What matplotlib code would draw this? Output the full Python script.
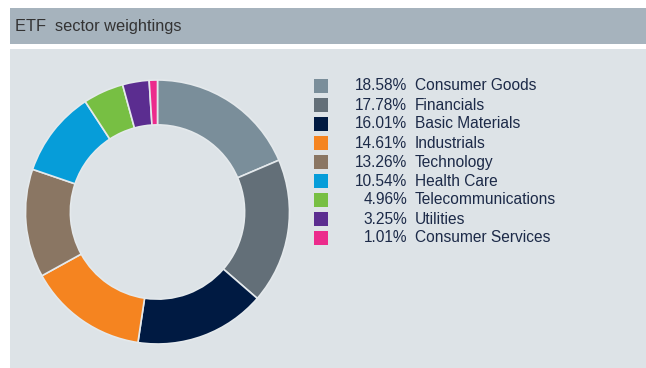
import matplotlib.pyplot as plt
from matplotlib.patches import Rectangle

sectors = ['Consumer Goods', 'Financials', 'Basic Materials', 'Industrials', 'Technology',
           'Health Care', 'Telecommunications', 'Utilities', 'Consumer Services']
weights = [18.58, 17.78, 16.01, 14.61, 13.26, 10.54, 4.96, 3.25, 1.01]
colors = ['#7a8e9a', '#636f78', '#001a42', '#f58420', '#8a7663',
          '#069dd9', '#77bf43', '#5b2d90', '#ec2b8c']

W, H = 646, 368
plt.rcParams['font.family'] = ['Liberation Sans', 'DejaVu Sans']

fig = plt.figure(figsize=(W / 100, H / 100), dpi=100)
fig.patch.set_facecolor('white')

# header bar and panel background, in pixel units
def px_rect(x0, y0, x1, y1, color):
    fig.add_artist(Rectangle((x0 / W, 1 - y1 / H), (x1 - x0) / W, (y1 - y0) / H,
                             transform=fig.transFigure, facecolor=color, edgecolor='none', zorder=0))

px_rect(10, 8, 646, 44, '#a6b3bd')
px_rect(10, 49, 646, 368, '#dde3e7')
fig.text(15 / W, 1 - 26 / H, 'ETF  sector weightings', fontsize=11.8, color='#333333',
         ha='left', va='center')

# donut
cx, cy, r = 157.5, 212, 132
ax = fig.add_axes([(cx - r) / W, 1 - (cy + r) / H, 2 * r / W, 2 * r / H])
ax.pie(weights, colors=colors, startangle=90, counterclock=False, radius=1,
       wedgeprops=dict(width=0.34, edgecolor='#e4e9ec', linewidth=1.2))
ax.set_xlim(-1, 1)
ax.set_ylim(-1, 1)
ax.set_aspect('equal')
ax.axis('off')

# legend
y0, dy = 86, 19
for i, (name, w, c) in enumerate(zip(sectors, weights, colors)):
    y = y0 + i * dy
    fig.add_artist(Rectangle((314 / W, 1 - (y + 7) / H), 14 / W, 14 / H,
                             transform=fig.transFigure, facecolor=c, edgecolor='none'))
    fig.text(407 / W, 1 - y / H, f'{w:.2f}%', fontsize=11.2, color='#1c2a48',
             ha='right', va='center')
    fig.text(415 / W, 1 - y / H, name, fontsize=11.2, color='#1c2a48',
             ha='left', va='center')

fig.savefig('out.png', dpi=100)
